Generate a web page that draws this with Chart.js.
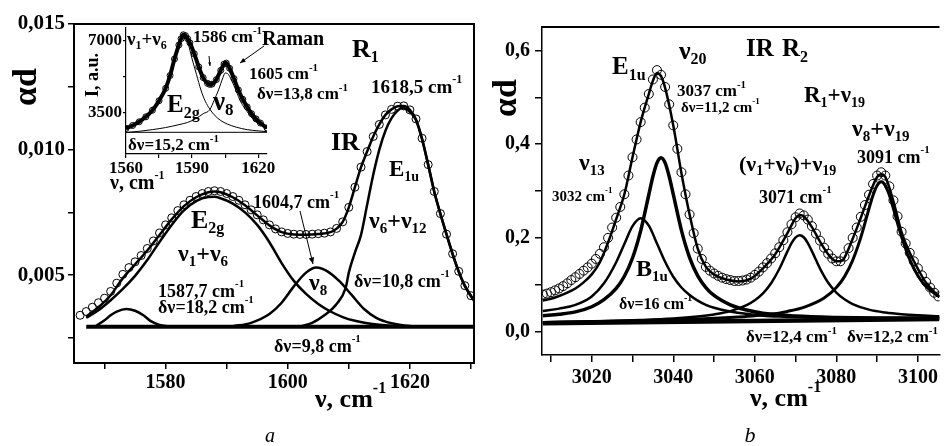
<!DOCTYPE html>
<html><head><meta charset="utf-8">
<script src="https://cdn.jsdelivr.net/npm/chart.js@4.4.1/dist/chart.umd.min.js"></script>
<style>
html,body{margin:0;padding:0;background:#fff;overflow:hidden;width:945px;height:446px}
canvas{position:absolute;left:0;top:0}
</style></head><body>
<canvas id="cA" width="945" height="446"></canvas>
<canvas id="cB" width="945" height="446"></canvas>
<canvas id="cI" width="945" height="446"></canvas>
<script>
// ---------------- Panel a (IR, R1 region) ----------------
const aTickX = [1570,1580,1590,1600,1610,1620,1630];
const aLabX  = [1580,1600,1620];
const aTickY = [0.0025,0.005,0.0075,0.010,0.0125,0.015];
const aLabY  = [0.005,0.010,0.015];

const aMeasX = [1566,1567,1568,1569,1570,1571,1572,1573,1574,1575,
                1576,1577,1578,1579,1580,1581,1582,1583,1584,1585,
                1586,1587,1588,1589,1590,1591,1592,1593,1594,1595,
                1596,1597,1598,1599,1600,1601,1602,1603,1604,1605,
                1606,1607,1608,1609,1610,1611,1612,1613,1614,1615,
                1616,1617,1618,1619,1620,1621,1622,1623,1624,1625,
                1626,1627,1628,1629,1630];
const aMeasY = [.00340,.00355,.00372,.00390,.00408,.00435,.00468,.00503,.00530,.00553,
                .00578,.00606,.00636,.00668,.00700,.00728,.00757,.00780,.00798,.00813,
                .00825,.00833,.00836,.00833,.00825,.00813,.00798,.00780,.00760,.00740,
                .00720,.00700,.00684,.00672,.00666,.00663,.00662,.00662,.00663,.00665,
                .00667,.00672,.00686,.00712,.00770,.00850,.00930,.00992,.01052,.01100,
                .01138,.01160,.01173,.01174,.01158,.01122,.01045,.00940,.00833,.00745,
                .00663,.00585,.00515,.00458,.00418];

const aFitX = [1567,1569,1571,1573,1575,1577,1579,1581,1583,1585,
               1587,1588,1589,1591,1593,1595,1597,1599,1601,1603,
               1605,1607,1608,1609,1610,1611,1612,1613,1614,1615,
               1616,1617,1618,1619,1620,1621,1622,1623,1624,1625,
               1626,1627,1628,1629,1630,1630.5];
const aFitY = [.00335,.00372,.00420,.00488,.00543,.00598,.00660,.00722,.00775,.00810,
               .00830,.00833,.00830,.00810,.00778,.00738,.00698,.00671,.00662,.00661,
               .00664,.00671,.00685,.00712,.00770,.00850,.00930,.00992,.01052,.01100,
               .01138,.01160,.01172,.01173,.01158,.01120,.01043,.00940,.00833,.00745,
               .00663,.00585,.00515,.00458,.00418,.00400];

const aE2gX = [1567,1569,1571,1573,1575,1577,1579,1581,1583,1585,
               1587,1588,1589,1591,1593,1595,1597,1599,1601,1603,
               1605,1607,1609,1611,1613,1615,1618,1622];
const aE2gY = [.00330,.00360,.00400,.00445,.00497,.00560,.00632,.00700,.00758,.00795,
               .00811,.00812,.00806,.00785,.00750,.00700,.00631,.00548,.00477,.00425,
               .00385,.00355,.00333,.00318,.00308,.00302,.00297,.00295];

const aSmallX = [1568.5,1570,1571,1572,1573.6,1575,1576.3,1577.5,1579,1580.5];
const aSmallY = [.00296,.00320,.00340,.00355,.00365,.00358,.00341,.00318,.00302,.00296];

const aNu8X = [1591,1594,1597,1599,1601,1603,1604.7,1606.5,1608.5,1610.5,1612.5,1614.5,1617,1620,1623];
const aNu8Y = [.00296,.00310,.00345,.00390,.00455,.00510,.00530,.00515,.00475,.00420,.00365,.00330,.00308,.00297,.00294];

const aE1uX = [1602,1604,1606,1608,1609.5,1610,1611,1612,1613,1614,
               1615,1616,1617,1618,1618.7,1620,1621,1622,1623,1624,
               1625,1626,1627,1628,1629,1630,1630.5];
const aE1uY = [.00295,.00310,.00340,.00385,.00450,.00510,.00590,.00660,.00780,.00900,
               .01000,.01075,.01125,.01155,.01165,.01150,.01118,.01040,.00938,.00830,
               .00743,.00661,.00583,.00513,.00456,.00416,.00398];

const aBaseX = [1567,1630.7];
const aBaseY = [0.00294,0.00294];

// ---------------- Inset (Raman) ----------------
const iTickX = [1560,1575,1590,1605,1620];
const iLabX  = [1560,1590,1620];
const iTickY = [3500,5250,7000];
const iLabY  = [3500,7000];

const iEnvX = [1560,1563,1566,1569,1572,1575,1578,1580,1582,1584,
               1585,1586,1587,1588,1589,1591,1593,1595,1597,1598,
               1599,1601,1603,1604.5,1605.5,1607,1609,1611,1613,1615,
               1617,1619,1621,1624];
const iEnvY = [2740,2880,3060,3300,3620,4080,4680,5300,6100,6780,
               7080,7270,7230,7080,6880,6350,5720,5200,4920,4870,
               4880,5100,5550,5850,5900,5650,5150,4600,4150,3780,
               3450,3200,3000,2760];

const iE2gX = [1560,1566,1572,1578,1582,1584,1586,1588,1590,1592,1594,1596,1598,1600,1603,1606,1610,1615,1620,1624];
const iE2gY = [2700,3030,3600,4680,6050,6720,7180,6900,6100,5350,4600,4050,3680,3400,3120,2950,2800,2680,2620,2580];

const iNu8X = [1560,1566,1572,1578,1584,1588,1592,1595,1598,1600,1602,1604,1605,1606,1608,1610,1612,1615,1618,1621,1624];
const iNu8Y = [2540,2600,2680,2780,2920,3030,3230,3450,3640,4100,4600,5200,5420,5400,5050,4550,4050,3550,3150,2900,2730];

const iBaseX = [1560,1624];
const iBaseY = [2550,2550];

// ---------------- Panel b (IR, R2 region) ----------------
const bTickX = [3010,3020,3030,3040,3050,3060,3070,3080,3090,3100];
const bLabX  = [3020,3040,3060,3080,3100];
const bTickY = [0.0,0.1,0.2,0.3,0.4,0.5,0.6];
const bLabY  = [0.0,0.2,0.4,0.6];

const bMeasX = [3008,3009,3010,3011,3012,3013,3014,3015,3016,3017,
                3018,3019,3020,3021,3022,3023,3024,3025,3026,3027,
                3028,3029,3030,3031,3032,3033,3034,3035,3036,3037,
                3038,3039,3040,3041,3042,3043,3044,3045,3046,3047,
                3048,3049,3050,3051,3052,3053,3054,3055,3056,3057,
                3058,3059,3060,3061,3062,3063,3064,3065,3066,3067,
                3068,3069,3070,3071,3072,3073,3074,3075,3076,3077,
                3078,3079,3080,3081,3082,3083,3084,3085,3086,3087,
                3088,3089,3090,3091,3092,3093,3094,3095,3096,3097,
                3098,3099,3100,3101,3102,3103,3104,3105];
const bMeasY = [.079,.081,.084,.088,.092,.097,.103,.110,.116,.123,
                .130,.137,.145,.155,.166,.180,.200,.222,.243,.266,
                .293,.333,.372,.410,.447,.478,.507,.538,.558,.548,
                .522,.485,.440,.390,.340,.293,.250,.210,.177,.155,
                .138,.130,.124,.119,.115,.112,.110,.108,.108,.109,
                .111,.115,.121,.128,.137,.146,.156,.167,.180,.195,
                .212,.229,.244,.252,.248,.239,.225,.209,.194,.179,
                .166,.156,.150,.150,.160,.178,.200,.222,.245,.270,
                .292,.315,.333,.340,.333,.310,.280,.246,.213,.188,
                .168,.150,.135,.120,.106,.094,.083,.075];

const bFitX = [3008,3010,3012,3014,3016,3018,3020,3022,3024,3026,
               3028,3030,3032,3034,3035,3036,3037,3038,3040,3042,
               3044,3046,3048,3050,3053,3056,3059,3062,3065,3068,
               3070,3071,3072,3074,3076,3078,3080,3081,3082,3084,
               3086,3088,3090,3091,3092,3094,3096,3098,3100,3102,3105.3];
const bFitY = [.066,.070,.076,.083,.092,.105,.122,.148,.190,.240,
               .293,.372,.447,.507,.535,.552,.545,.520,.440,.338,
               .250,.177,.138,.122,.111,.107,.113,.135,.165,.210,
               .242,.249,.246,.223,.192,.165,.150,.150,.158,.198,
               .243,.290,.330,.336,.330,.278,.212,.168,.134,.104,.074];

const bB1uX = [3008,3012,3016,3020,3023,3026,3028,3030,3032,3034,3036,3038,3040,3042,3044,3046,3048,3050,3054,3058,3062,3066,3070,3080,3090,3105.3];
const bB1uY = [.044,.049,.057,.075,.103,.148,.187,.225,.242,.226,.188,.149,.117,.094,.078,.066,.057,.051,.043,.038,.034,.032,.031,.029,.029,.029];

const bNu20X = [3008,3012,3016,3020,3023,3026,3028,3030,3032,3034,3035,3036,3037,3038,3039,3040,3042,3044,3046,3048,3050,3054,3058,3062,3066,3070,3080,3090,3105.3];
const bNu20Y = [.034,.037,.042,.053,.068,.092,.118,.157,.215,.292,.331,.360,.371,.360,.331,.293,.216,.158,.119,.094,.077,.057,.046,.039,.036,.033,.030,.029,.029];

const b3071X = [3008,3020,3032,3040,3046,3050,3054,3058,3060,3062,3064,3066,3068,3069,3070,3071,3072,3073,3074,3076,3078,3080,3082,3084,3088,3092,3096,3100,3105.3];
const b3071Y = [.020,.0217,.0246,.0277,.032,.0365,.0436,.0563,.0667,.0815,.1032,.1336,.1711,.1885,.2012,.2058,.2013,.189,.1716,.1343,.1041,.0832,.0688,.0588,.0468,.0405,.0368,.0346,.0329];

const b3091X = [3008,3024,3036,3046,3056,3060,3064,3068,3072,3077,3080,3082,3084,3086,3087,3088,3089,3090,3091,3092,3093,3094,3095,3096,3098,3100,3102,3105.3];
const b3091Y = [.0196,.0218,.0241,.0268,.0312,.0339,.0369,.043,.0515,.0714,.0939,.1173,.152,.2011,.231,.2622,.2911,.3119,.3196,.312,.2912,.2624,.2313,.2021,.1534,.1191,.096,.0739];

const bBaseX = [3008,3105.3];
const bBaseY = [0.018,0.027];

// ---------------- helpers ----------------
const FONT = "'Liberation Serif', 'Times New Roman', serif";
Chart.defaults.font.family = FONT;
Chart.defaults.font.weight = 'bold';
Chart.defaults.color = '#000';

function pts(xs, ys){ return xs.map((x,i)=>({x:x, y:ys[i]})); }
function lineDs(xs, ys, w){
  return {data:pts(xs,ys), showLine:true, borderColor:'#000', borderWidth:w,
          pointRadius:0, cubicInterpolationMode:'monotone', fill:false};
}
function dotDs(xs, ys, r){
  return {data:pts(xs,ys), showLine:false, pointRadius:r, pointBorderWidth:1,
          pointBorderColor:'#000', pointBackgroundColor:'rgba(0,0,0,0)', pointStyle:'circle'};
}
function mkAxis(o){
  return {
    type:'linear', min:o.min, max:o.max, position:o.pos,
    afterBuildTicks: s => { s.ticks = o.ticks.map(v=>({value:v})); },
    ticks:{autoSkip:false, maxRotation:0, minRotation:0, padding:o.pad, color:'#000',
      font:{family:FONT, size:o.size, weight:'bold'},
      callback: v => { const L = o.labels.find(l=>Math.abs(l-v)<1e-9); return L===undefined ? '' : o.fmt(L); }},
    grid:{drawOnChartArea:false, drawTicks:true, tickLength:o.tl, color:'#000', lineWidth:o.lw},
    border:{display:true, color:'#000', width:o.lw},
    afterFit: s => { if (o.pos==='left') s.width=o.fix; else s.height=o.fix;
      s.paddingLeft=0; s.paddingRight=0; s.paddingTop=0; s.paddingBottom=0; }
  };
}
function drawRich(ctx, str, x, y, size, o){
  o = o || {};
  const parts=[]; let cur='', i=0;
  while(i<str.length){
    const c=str[i];
    if((c==='_'||c==='^') && str[i+1]==='{'){
      if(cur) parts.push({t:cur,k:0}); cur='';
      const j=str.indexOf('}',i);
      parts.push({t:str.slice(i+2,j), k:c==='_'?1:2}); i=j+1;
    } else { cur+=c; i++; }
  }
  if(cur) parts.push({t:cur,k:0});
  ctx.save();
  ctx.translate(x,y);
  if(o.rot) ctx.rotate(o.rot);
  ctx.scale(o.sx||1,1);
  ctx.fillStyle='#000'; ctx.textBaseline='middle'; ctx.textAlign='left';
  const fnt = p => `${o.italic?'italic ':''}${o.weight||'bold'} ${p.k? Math.round(size*0.62): size}px ${FONT}`;
  let total=0;
  parts.forEach(p=>{ ctx.font=fnt(p); total+=ctx.measureText(p.t).width; });
  let cx = o.center ? -total/2 : 0;
  parts.forEach(p=>{
    ctx.font=fnt(p);
    const dy = p.k===1 ? size*0.30 : (p.k===2 ? -size*0.42 : 0);
    ctx.fillText(p.t, cx, dy);
    cx += ctx.measureText(p.t).width;
  });
  ctx.restore();
}
function arrow(ctx, x1,y1,x2,y2, h){
  ctx.save(); ctx.strokeStyle='#000'; ctx.fillStyle='#000'; ctx.lineWidth=1;
  ctx.beginPath(); ctx.moveTo(x1,y1); ctx.lineTo(x2,y2); ctx.stroke();
  const a=Math.atan2(y2-y1,x2-x1);
  ctx.beginPath(); ctx.moveTo(x2,y2);
  ctx.lineTo(x2-h*Math.cos(a-0.4), y2-h*Math.sin(a-0.4));
  ctx.lineTo(x2-h*Math.cos(a+0.4), y2-h*Math.sin(a+0.4));
  ctx.closePath(); ctx.fill(); ctx.restore();
}
function deco(texts, extra){
  return {id:'deco', afterDraw(chart){
    const ctx=chart.ctx; ctx.save();
    if(extra) extra(chart, ctx);
    texts.forEach(t=>drawRich(ctx, t[0], t[1], t[2], t[3], t[4]));
    ctx.restore();
  }};
}
const baseOpts = (pad, scales) => ({
  responsive:false, animation:false, devicePixelRatio:1, events:[],
  layout:{padding:pad},
  plugins:{legend:{display:false}, tooltip:{enabled:false}},
  scales:scales
});
const fmt3 = v => v.toFixed(3).replace('.',',');
const fmt1 = v => v.toFixed(1).replace('.',',');
const fmt0 = v => String(v);

// ---------------- Chart a ----------------
const textA = [
  ['αd', 27, 87, 34, {rot:-Math.PI/2, center:true}],
  ['ν, cm^{-1}', 315, 400, 26],
  ['a', 270, 437, 20, {italic:true, weight:'normal', center:true}],
  ['R_{1}', 352, 50, 26],
  ['1618,5 cm^{-1}', 371, 88, 19],
  ['IR', 331, 143, 26],
  ['E_{1u}', 389, 170, 23],
  ['ν_{6}+ν_{12}', 369, 222, 24],
  ['δν=10,8 cm^{-1}', 354, 282, 18],
  ['1604,7 cm^{-1}', 253, 203, 18],
  ['E_{2g}', 191, 221, 26],
  ['ν_{1}+ν_{6}', 178, 255, 24],
  ['1587,7 cm^{-1}', 158, 292, 18],
  ['δν=18,2 cm^{-1}', 158, 308, 18],
  ['ν_{8}', 309, 284, 24],
  ['δν=9,8 cm^{-1}', 274, 347, 18]
];
new Chart(document.getElementById('cA'), {
  type:'scatter',
  data:{datasets:[
    dotDs(aMeasX, aMeasY, 4),
    lineDs(aFitX, aFitY, 2.5),
    lineDs(aE2gX, aE2gY, 2.5),
    lineDs(aSmallX, aSmallY, 2.5),
    lineDs(aNu8X, aNu8Y, 2.5),
    lineDs(aE1uX, aE1uY, 2.5),
    lineDs(aBaseX, aBaseY, 4)
  ]},
  options: baseOpts({left:0, top:24, right:471, bottom:0}, {
    x: mkAxis({min:1565, max:1630.5, pos:'bottom', ticks:aTickX, labels:aLabX, fmt:fmt0, size:20, pad:2, tl:6, lw:1.5, fix:83}),
    y: mkAxis({min:0.0015, max:0.015, pos:'left', ticks:aTickY, labels:aLabY, fmt:fmt3, size:21, pad:3, tl:6, lw:1.5, fix:74})
  }),
  plugins:[deco(textA, (chart, ctx)=>{
    const a=chart.chartArea; ctx.strokeStyle='#000'; ctx.lineWidth=2;
    ctx.strokeRect(a.left, a.top, a.right-a.left, a.bottom-a.top);
    arrow(ctx, 300, 211, 313, 264, 7);
  })]
});

// ---------------- Chart b ----------------
const textB = [
  ['αd', 507, 98, 34, {rot:-Math.PI/2, center:true}],
  ['ν, cm^{-1}', 750, 399, 26],
  ['b', 750, 436, 22, {italic:true, weight:'normal', center:true}],
  ['IR', 746, 50, 25],
  ['R_{2}', 782, 50, 25],
  ['E_{1u}', 612, 68, 25],
  ['ν_{20}', 679, 52, 26],
  ['3037 cm^{-1}', 677, 92, 17],
  ['δν=11,2 cm^{-1}', 681, 108, 15],
  ['R_{1}+ν_{19}', 804, 96, 23],
  ['ν_{8}+ν_{19}', 852, 130, 24],
  ['3091 cm^{-1}', 857, 158, 18],
  ['(ν_{1}+ν_{6})+ν_{19}', 739, 165, 22],
  ['3071 cm^{-1}', 759, 198, 18],
  ['ν_{13}', 579, 164, 24],
  ['3032 cm^{-1}', 552, 197, 15],
  ['B_{1u}', 636, 270, 24],
  ['δν=16 cm^{-1}', 619, 305, 16],
  ['δν=12,4 cm^{-1}', 746, 338, 17],
  ['δν=12,2 cm^{-1}', 847, 338, 17]
];
new Chart(document.getElementById('cB'), {
  type:'scatter',
  data:{datasets:[
    dotDs(bMeasX, bMeasY, 4.5),
    lineDs(bFitX, bFitY, 2.5),
    lineDs(bB1uX, bB1uY, 2.5),
    lineDs(bNu20X, bNu20Y, 3.5),
    lineDs(b3071X, b3071Y, 2.5),
    lineDs(b3091X, b3091Y, 3),
    lineDs(bBaseX, bBaseY, 4.5)
  ]},
  options: baseOpts({left:0, top:27, right:0, bottom:0}, {
    x: mkAxis({min:3007.8, max:3105.3, pos:'bottom', ticks:bTickX, labels:bLabX, fmt:fmt0, size:20, pad:4, tl:7, lw:1.5, fix:91}),
    y: mkAxis({min:-0.05, max:0.65, pos:'left', ticks:bTickY, labels:bLabY, fmt:fmt1, size:20, pad:5, tl:7, lw:1.5, fix:542})
  }),
  plugins:[deco(textB, (chart, ctx)=>{
    const a=chart.chartArea; ctx.strokeStyle='#000'; ctx.lineWidth=2;
    ctx.beginPath(); ctx.moveTo(a.left, a.top); ctx.lineTo(a.right, a.top); ctx.stroke();
  })]
});

// ---------------- Inset chart ----------------
const textI = [
  ['I, a.u.', 93, 75, 18, {rot:-Math.PI/2, center:true}],
  ['ν, cm^{-1}', 110, 184, 20],
  ['ν_{1}+ν_{6}', 127, 40, 19],
  ['1586 cm^{-1}', 193, 38, 17],
  ['Raman', 262, 40, 20],
  ['1605 cm^{-1}', 249, 75, 17],
  ['δν=13,8 cm^{-1}', 257, 95, 17],
  ['E_{2g}', 167, 106, 25],
  ['ν_{8}', 213, 103, 27],
  ['δν=15,2 cm^{-1}', 128, 146, 17]
];
new Chart(document.getElementById('cI'), {
  type:'scatter',
  data:{datasets:[
    dotDs(iEnvX, iEnvY, 3),
    lineDs(iEnvX, iEnvY, 4),
    lineDs(iE2gX, iE2gY, 1),
    lineDs(iNu8X, iNu8Y, 1),
    lineDs(iBaseX, iBaseY, 1)
  ]},
  options: baseOpts({left:0, top:28, right:678, bottom:0}, {
    x: mkAxis({min:1560, max:1624, pos:'bottom', ticks:iTickX, labels:iLabX, fmt:fmt0, size:17, pad:0, tl:4, lw:1.2, fix:292}),
    y: mkAxis({min:1500, max:7600, pos:'left', ticks:iTickY, labels:iLabY, fmt:fmt0, size:17, pad:1, tl:3, lw:1.2, fix:126})
  }),
  plugins:[deco(textI, (chart, ctx)=>{
    arrow(ctx, 264, 46, 240, 63, 6);
    arrow(ctx, 209, 56, 210, 66, 4);
  })]
});
</script>
</body></html>
